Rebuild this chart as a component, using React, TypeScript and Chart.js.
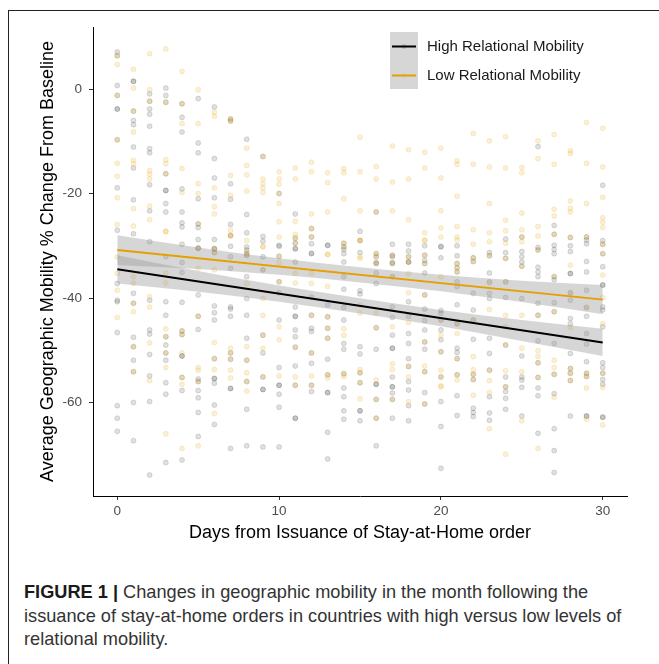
import React, { useEffect, useRef } from "react";
import { Chart, registerables } from "chart.js";

Chart.register(...registerables);

// ---------- DATA ----------
const seriesLabels = ["High Relational Mobility", "Low Relational Mobility"];
const xTitle = "Days from Issuance of Stay-at-Home order";
const yTitle = "Average Geographic Mobility % Change From Baseline";
const xTicks = [0, 10, 20, 30];
const yTicks = [-60, -40, -20, 0];

// scatter values per day (index = days from issuance, 0..30)
const highPoints: number[][] = [
  [7.1, 6.4, 0.7, -1.2, -3.8, -3.8, -9.7, -18.9, -27, -37.2, -40.4, -40.7, -46.6, -60.6, -63, -65.5],
  [1.5, 1.5, -4.2, -6, -6.8, -11.1, -15.1, -21.2, -27.7, -39.1, -41, -47.5, -49.3, -51.9, -54.1, -60, -67.3],
  [-0.9, -2.3, -3.8, -4.8, -7.1, -11.4, -12.2, -18.3, -23.3, -29.2, -40.4, -46.1, -46.9, -50.8, -54.9, -59.8, -73.9],
  [0.2, -1.2, -2.5, -16.2, -19.4, -19.4, -21.9, -23.5, -32.1, -40.7, -43.3, -47.4, -49, -50.5, -51.9, -56.2, -58.4, -71.5],
  [-2.8, -5.4, -8.2, -19.1, -23.5, -25.6, -26.4, -29.7, -33.2, -35.1, -40.8, -46.3, -47, -51.1, -51.1, -55.2, -57.7, -71],
  [-1.8, -10.3, -12.2, -21, -25.8, -26.5, -28.8, -30.4, -30.5, -39.4, -43.5, -46, -55.5, -56, -57.7, -59.1, -61.9, -66.5],
  [-3.4, -13.3, -17, -20.8, -28.8, -30.6, -31.3, -30.5, -41.5, -42.8, -44.2, -51.6, -55.4, -55.4, -56.3, -60.5, -64.2],
  [-5.7, -6.1, -18.1, -21.1, -25.9, -28, -30.1, -32.1, -34.3, -41.7, -42.1, -43.5, -50.5, -51.7, -57.3, -57.3, -68.8],
  [-9.6, -24, -27.5, -30.2, -30.8, -31.5, -31.8, -35.9, -40.1, -43.3, -47.7, -51.9, -56, -61.3, -68.3],
  [-12.9, -28.2, -29.1, -32.1, -34.6, -47.1, -50.5, -55.1, -57.5, -57.5, -68.5],
  [-20, -29.9, -30.1, -32, -36.9, -39, -44.2, -53.3, -56.7, -56.7, -58.4, -60.9, -68.5],
  [-23.9, -29.5, -30.6, -33.1, -28.6, -30.5, -41.7, -43.5, -43.5, -46.1, -47.4, -49.4, -53, -56.7, -63, -63],
  [-26.7, -28.3, -29.6, -31.4, -31.5, -39.8, -43.3, -45.8, -46.4, -50.5, -52.5, -56.7, -57.9],
  [-29.9, -29.9, -41.3, -43.6, -45.8, -47.7, -51.7, -54.7, -58.1, -58.1, -65.7, -70.8],
  [-29.5, -30.2, -30.7, -31.5, -33.1, -35.9, -38.3, -41.8, -44.2, -48.7, -49.8, -54.5, -57.2, -58.9, -61.6, -63.2],
  [-27.2, -29, -31.3, -38.6, -39.2, -49.3, -50.7, -54.3, -56.2, -61.6, -61.6, -63.5],
  [-23.5, -31.5, -32.1, -33.2, -33.4, -35.2, -37.2, -45.7, -49.8, -56.5, -56.5, -59.4, -63, -68.3],
  [-29.7, -32.1, -33.2, -31.8, -33.4, -35.9, -41.7, -43.7, -47.1, -49.6, -49.6, -55.1, -57, -57, -58.2, -59.4, -63],
  [-29.7, -31, -32.1, -33.1, -33.1, -40.7, -43.5, -46.8, -48.7, -51.6, -53.1, -56, -57.6, -60.6, -63.5],
  [-30, -31.8, -32.8, -33.4, -35.2, -39.4, -42.1, -44.3, -46.1, -48.4, -49.8, -54.1, -58.1, -60.3],
  [-30.1, -32.3, -30.2, -42.4, -42.9, -44.2, -46.1, -48, -50.3, -55.1, -59.8, -64.6, -72.6],
  [-30, -31.9, -33.4, -34.2, -35, -36.9, -37.8, -41.3, -44.9, -49.6, -50.4, -51.6, -54.7, -58.7, -62.5],
  [-32.3, -33, -39.1, -42.3, -44.2, -47.9, -54.6, -55.6, -61.1, -61.9, -62.7],
  [-31.3, -31.9, -35.2, -36.9, -39.1, -40.1, -47.7, -50.6, -53.8, -58.9, -62, -63.4],
  [-28.7, -31.3, -32.4, -36.9, -39.9, -49, -55.1, -57, -57.9, -59.2, -61.3],
  [-28.3, -31.1, -32.1, -33.1, -33.9, -40.1, -51.1, -55.1, -55.7, -57.1, -62.6],
  [-11, -30.3, -30.8, -34.1, -35, -35.9, -41, -43.3, -48.2, -52.4, -55.2, -57.2, -58.7, -65.9],
  [-26.1, -27.8, -29.9, -30.7, -31.5, -35.9, -36.5, -40.9, -42.6, -48.7, -54.6, -58.3, -65, -69.2, -73.4],
  [-28.4, -30, -31.1, -35.3, -35.3, -39, -40.4, -43.9, -44.9, -50.6, -53.5, -54.4, -55.8, -62.6],
  [-28.3, -28.9, -29.6, -33, -35, -38.5, -41.8, -43.5, -46.8, -48.8, -52.2, -54.4, -55, -62.6, -62.6],
  [-18.4, -29, -29.7, -31.5, -34, -37.5, -37.5, -41.7, -42.3, -45.5, -52.4, -53.3, -54.4, -55.6, -56.5, -62.8, -62.8],
];

const lowPoints: number[][] = [
  [4.7, 6.4, -1.2, -9.7, -14.2, -16.7, -20.8, -25.9, -32.1, -35.3, -38.5, -43.7],
  [3.8, 0.2, -4.2, -8.2, -13.6, -14.3, -22.9, -26.2, -35.9, -37.2, -41, -42.6, -49.3, -54.1],
  [6.8, -0.1, -2.3, -15.6, -16.3, -17.2, -22.4, -25, -39.7, -41.7, -48.6, -55.8],
  [7.7, -2.5, -13.5, -14.3, -16.2, -27.2, -27.3, -35.2, -37.1, -45.9, -47.4, -50.5, -53.3, -66],
  [3.4, -2.8, -6.6, -15.2, -19.8, -46.3, -47, -50.5, -55.2, -56.5, -68.8],
  [-0.1, -6.6, -18.1, -20, -25.8, -30.4, -34.3, -43.5, -53.3, -53.8, -56, -68.3],
  [-4.4, -5.2, -18.9, -22.5, -23.9, -30.6, -31.3, -34.6, -48.5, -51.6, -53.7, -62.1],
  [-5.7, -6.1, -16.5, -20.3, -27, -28.1, -28, -49.6, -50.5, -51.7, -53.8, -55.3],
  [-11.3, -14.6, -16.4, -19.5, -29, -31.2, -31.8, -37.2, -49.3, -51.9, -54.3, -56, -57.8],
  [-12.9, -17.2, -18.1, -18.9, -19.8, -30.1, -30.2, -34.6, -40.1, -43.3, -47.1, -49.6, -55.1],
  [-15.8, -17.2, -18.2, -20, -21.9, -25.4, -28.3, -32, -33.2, -36.9, -45.5, -48, -54.9],
  [-15.1, -17.2, -25.3, -27.8, -28.4, -29.5, -35.3, -37.1, -49.4, -55.1, -56.7],
  [-14, -15.8, -23.9, -26.7, -28.3, -35.3, -37.2, -43.3, -50.5, -54.9, -56.7],
  [-16, -17.9, -23.5, -31.7, -31.6, -37.8, -43.6, -45.8, -47.7, -54.7, -55.3],
  [-15.2, -16, -21, -29.5, -30.2, -45.9, -47.1, -54.5, -55],
  [-9.2, -15.8, -23.3, -29, -28.9, -32.1, -32.4, -41.3, -42.9, -53.7, -54.3, -56.2, -59.3],
  [-14.8, -17.2, -23.5, -32.1, -31.5, -33.4, -42.9, -45.7, -55.7, -59.4, -63],
  [-10.9, -17.8, -23.3, -31.8, -33.4, -35.9, -45.5, -52.6, -53.7, -59.4],
  [-11.6, -17.2, -25, -32.1, -33.1, -35.3, -39, -44.7, -53.1, -55.1, -59.8],
  [-12.1, -15.1, -27.5, -29, -28.9, -31.8, -33.4, -39.4, -48.4, -53, -54.1, -60.3],
  [-11.3, -17, -23.3, -26.6, -28.3, -35.9, -44.2, -47.1, -50.3, -53.8, -55.1, -56.8, -57],
  [-13.7, -14.4, -20.5, -26.3, -28.3, -28.9, -33.4, -34.2, -35, -44.9, -46.8, -51.6, -54.7, -55.7],
  [-8.5, -14.4, -26.9, -29.7, -32.3, -33, -44.2, -51.2, -53.7, -54.6, -55.6, -58.6],
  [-9.9, -14.9, -21.9, -27.5, -29.2, -31.9, -37.1, -42.2, -53.8, -55.8, -58.1, -65],
  [-9.1, -15.1, -25.1, -27.1, -29.5, -32.4, -36.9, -43.3, -45.5, -49, -53.9, -57, -69.9],
  [-15, -16, -23.7, -26.9, -28.3, -29.2, -33.9, -43.3, -49.6, -54.1, -63.5],
  [-9.9, -13.3, -26.3, -28.1, -30.8, -43.3, -50.1, -51.2, -52.4, -55.2, -68.8],
  [-8.7, -14.4, -23, -24.3, -27.8, -35.9, -42.6, -51.9, -53.3, -54.6, -59],
  [-11.8, -12.3, -21.4, -22.8, -23.5, -28.4, -33.7, -39, -45.6, -53.5, -54.4, -55.8],
  [-6.4, -14.2, -21.9, -28.3, -41.8, -54.4, -55, -57.2, -63.2],
  [-7.5, -14.9, -20.7, -24.6, -25.5, -26.5, -29.7, -31.5, -35.6, -39.9, -44.9, -54.4, -57.1, -64.3],
];

// fitted regression lines (endpoints)
const fitX = [0, 30];
const highFit = [-34.5, -48.5];
const lowFit = [-30.8, -40.3];

// confidence bands
const bandX = [0, 5, 10, 15, 20, 25, 30];
const highUpper = [-31.8, -34.8, -37.6, -40.05, -42.3, -44.2, -45.9];
const highLower = [-37.2, -38.8, -40.7, -42.95, -45.4, -48.2, -51.1];
const lowUpper = [-27.95, -30.3, -32.4, -34.1, -35.55, -36.7, -37.5];
const lowLower = [-33.65, -34.45, -35.55, -37.0, -38.7, -40.75, -43.1];

// ---------- STYLE ----------
const FONT = '"Liberation Sans", Arial, Helvetica, sans-serif';
const HIGH_COLOR = "#000000";
const LOW_COLOR = "#E69F00";
const HIGH_PT = "rgba(0,0,0,0.12)";
const LOW_PT = "rgba(230,159,0,0.16)";
const BAND = "rgba(153,153,153,0.4)";

const pts = (arr: number[][]) => arr.flatMap((ys, d) => ys.map((y) => ({ x: d, y })));
const xy = (xs: number[], ys: number[]) => xs.map((x, i) => ({ x, y: ys[i] }));

const legendPlugin = {
  id: "ggLegend",
  afterDatasetsDraw(chart: any) {
    const { ctx, chartArea: a } = chart;
    const bx = a.left + 297;
    const by = a.top + 5;
    const kw = 28;
    const kh = 28.5;
    ctx.save();
    ctx.fillStyle = "#d6d6d6";
    ctx.fillRect(bx, by, kw, kh * 2);
    const rows = [
      { color: HIGH_COLOR, pt: HIGH_PT, label: seriesLabels[0] },
      { color: LOW_COLOR, pt: LOW_PT, label: seriesLabels[1] },
    ];
    rows.forEach((r, i) => {
      const cy = Math.round(by + kh * i + kh / 2) + 0.5;
      ctx.beginPath();
      ctx.fillStyle = r.pt;
      ctx.arc(bx + kw / 2, cy, 2.5, 0, Math.PI * 2);
      ctx.fill();
      ctx.strokeStyle = r.color;
      ctx.lineWidth = 2;
      ctx.beginPath();
      ctx.moveTo(bx + 2, cy);
      ctx.lineTo(bx + kw - 2, cy);
      ctx.stroke();
      ctx.fillStyle = "#1a1a1a";
      ctx.font = `15px ${FONT}`;
      ctx.textBaseline = "middle";
      ctx.textAlign = "left";
      ctx.fillText(r.label, bx + kw + 9, cy);
    });
    ctx.restore();
  },
};

export default function App() {
  const ref = useRef<HTMLCanvasElement | null>(null);

  useEffect(() => {
    if (!ref.current) return;
    const chart = new Chart(ref.current, {
      type: "scatter",
      data: {
        datasets: [
          {
            type: "scatter",
            data: pts(highPoints),
            pointRadius: 2.5,
            pointBorderWidth: 1,
            pointBackgroundColor: HIGH_PT,
            pointBorderColor: HIGH_PT,
            order: 4,
          } as any,
          {
            type: "scatter",
            data: pts(lowPoints),
            pointRadius: 2.5,
            pointBorderWidth: 1,
            pointBackgroundColor: LOW_PT,
            pointBorderColor: LOW_PT,
            order: 3,
          } as any,
          {
            type: "line",
            data: xy(bandX, highUpper),
            fill: "+1",
            backgroundColor: BAND,
            borderWidth: 0,
            pointRadius: 0,
            cubicInterpolationMode: "monotone",
            order: 2,
          } as any,
          {
            type: "line",
            data: xy(bandX, highLower),
            fill: false,
            borderWidth: 0,
            pointRadius: 0,
            cubicInterpolationMode: "monotone",
            order: 2,
          } as any,
          {
            type: "line",
            data: xy(bandX, lowUpper),
            fill: "+1",
            backgroundColor: BAND,
            borderWidth: 0,
            pointRadius: 0,
            cubicInterpolationMode: "monotone",
            order: 2,
          } as any,
          {
            type: "line",
            data: xy(bandX, lowLower),
            fill: false,
            borderWidth: 0,
            pointRadius: 0,
            cubicInterpolationMode: "monotone",
            order: 2,
          } as any,
          {
            type: "line",
            data: xy(fitX, highFit),
            borderColor: HIGH_COLOR,
            borderWidth: 2,
            pointRadius: 0,
            fill: false,
            order: 1,
          } as any,
          {
            type: "line",
            data: xy(fitX, lowFit),
            borderColor: LOW_COLOR,
            borderWidth: 2,
            pointRadius: 0,
            fill: false,
            order: 0,
          } as any,
        ],
      },
      options: {
        responsive: false,
        animation: false,
        devicePixelRatio: 1,
        layout: { padding: { left: 0, top: 19, right: 21, bottom: 0 } },
        plugins: { legend: { display: false }, tooltip: { enabled: false } },
        scales: {
          x: {
            type: "linear",
            min: -1.5,
            max: 31.5,
            afterBuildTicks: (s: any) => {
              s.ticks = xTicks.map((v) => ({ value: v }));
            },
            afterFit: (s: any) => {
              s.height = 62;
            },
            grid: { display: true, drawOnChartArea: false, drawTicks: true, tickLength: 4, color: "#333333", lineWidth: 1 },
            border: { display: true, color: "#000000", width: 1 },
            ticks: {
              color: "#4d4d4d",
              font: { family: FONT, size: 13.5 },
              padding: 3,
              autoSkip: false,
              maxRotation: 0,
              callback: (v: any) => String(v),
            },
            title: {
              display: true,
              text: xTitle,
              color: "#000000",
              font: { family: FONT, size: 18 },
              padding: { top: 0, bottom: 14.5 },
            },
          },
          y: {
            type: "linear",
            min: -77.9,
            max: 11.9,
            afterBuildTicks: (s: any) => {
              s.ticks = yTicks.map((v) => ({ value: v }));
            },
            afterFit: (s: any) => {
              s.width = 85;
            },
            grid: { display: true, drawOnChartArea: false, drawTicks: true, tickLength: 4, color: "#333333", lineWidth: 1 },
            border: { display: true, color: "#000000", width: 1 },
            ticks: {
              color: "#4d4d4d",
              font: { family: FONT, size: 13.5 },
              padding: 7,
              autoSkip: false,
              callback: (v: any) => String(v),
            },
            title: {
              display: true,
              text: yTitle,
              color: "#000000",
              font: { family: FONT, size: 18 },
              padding: { top: 29, bottom: 0 },
            },
          },
        },
      } as any,
      plugins: [legendPlugin],
    });
    return () => chart.destroy();
  }, []);

  return (
    <div style={{ position: "fixed", left: 0, top: 0, width: 659, height: 664, overflow: "hidden", background: "#fff" }}>
      <div
        style={{
          position: "absolute",
          left: 8,
          top: 10,
          width: 700,
          height: 700,
          borderLeft: "1px solid #222",
          borderTop: "1px solid #222",
        }}
      />
      <canvas ref={ref} width={640} height={550} style={{ position: "absolute", left: 8, top: 8, width: 640, height: 550 }} />
      <div
        style={{
          position: "absolute",
          left: 24,
          top: 581,
          fontFamily: FONT,
          fontSize: 18.2,
          lineHeight: "23.5px",
          color: "#333",
          whiteSpace: "nowrap",
        }}
      >
        <b style={{ color: "#1a1a1a" }}>FIGURE 1 |</b> Changes in geographic mobility in the month following the
        <br />
        issuance of stay-at-home orders in countries with high versus low levels of
        <br />
        relational mobility.
      </div>
    </div>
  );
}
